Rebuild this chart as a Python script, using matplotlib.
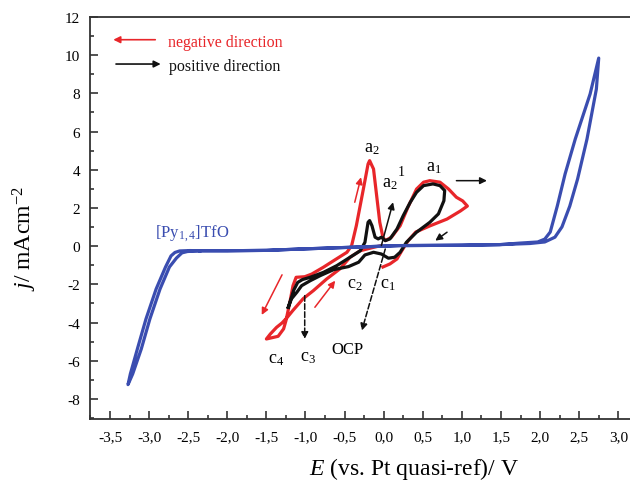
import matplotlib
matplotlib.use('Agg')
import matplotlib.pyplot as plt
from matplotlib.ticker import MultipleLocator, FuncFormatter

plt.rcParams['font.family'] = ['Liberation Serif', 'DejaVu Serif']
plt.rcParams['mathtext.fontset'] = 'custom'
plt.rcParams['mathtext.rm'] = 'Liberation Serif'
plt.rcParams['mathtext.it'] = 'Liberation Serif:italic'

# blue: neat ionic liquid, closed loop
blue_E = [-2.35, -2.48, -2.61, -2.67, -2.72, -2.79, -2.91, -3.04, -3.15, -3.24, -3.27,
          -3.21, -3.10, -2.99, -2.86, -2.74, -2.65, -2.58, -2.51, -2.35,
          -2.0, -1.5, -1.07, -0.43, 0.2, 1.0, 1.48, 1.74,
          1.97, 2.06, 2.13, 2.22, 2.32, 2.45, 2.64, 2.75,
          2.72, 2.60, 2.48, 2.38, 2.28, 2.19, 2.06, 1.87,
          1.48, 1.0, 0.2, -0.43, -1.07, -1.5, -2.0, -2.35]
blue_j = [-0.24, -0.23, -0.25, -0.33, -0.51, -1.09, -2.24, -3.81, -5.38, -6.69, -7.25,
          -6.69, -5.38, -3.81, -2.24, -1.09, -0.62, -0.35, -0.28, -0.24,
          -0.24, -0.22, -0.15, -0.06, 0.03, 0.05, 0.08, 0.16,
          0.22, 0.37, 0.74, 2.10, 3.78, 5.61, 7.97, 9.85,
          8.23, 5.61, 3.52, 2.10, 1.01, 0.47, 0.22, 0.14,
          0.08, 0.05, 0.03, -0.06, -0.15, -0.22, -0.24, -0.24]

# red: scan started in negative direction
red_E = [-0.01, 0.08, 0.17, 0.23, 0.31, 0.41, 0.59, 0.81, 0.98, 1.07, 1.01, 0.93, 0.83, 0.72,
         0.59, 0.51, 0.42, 0.31, 0.21, 0.10, 0.02, -0.01, -0.05, -0.09, -0.13, -0.18, -0.20,
         -0.26, -0.35, -0.41, -0.47, -0.64, -0.77, -0.92, -1.01, -1.12, -1.16, -1.20, -1.25,
         -1.28, -1.35, -1.50, -1.45, -1.37, -1.30, -1.24, -1.16, -1.03, -0.90, -0.73, -0.56,
         -0.43, -0.30, -0.13, -0.03]
red_j = [-1.09, -0.93, -0.67, -0.25, 0.27, 0.74, 1.06, 1.42, 1.84, 2.10, 2.37, 2.56, 2.99, 3.35,
         3.43, 3.35, 2.99, 2.04, 1.07, 0.47, 0.29, 0.47, 1.25, 2.64, 4.04, 4.48, 4.30,
         2.99, 1.07, 0.03, -0.32, -0.76, -1.10, -1.46, -1.60, -1.63, -2.07, -2.94, -3.90,
         -4.33, -4.72, -4.86, -4.60, -4.25, -4.02, -3.76, -3.36, -2.75, -2.33, -1.72, -1.19,
         -0.58, -0.24, -0.06, 0.03]

# black: scan started in positive direction
black_E = [-1.22, -1.15, -1.10, -1.04, -0.94, -0.77, -0.60, -0.43, -0.30, -0.24, -0.20, -0.18,
           -0.15, -0.11, -0.07, -0.03, 0.02, 0.08, 0.17, 0.25, 0.34, 0.42, 0.51, 0.63, 0.72,
           0.78, 0.77, 0.70, 0.59, 0.42, 0.29, 0.21, 0.14, 0.06, -0.03, -0.13, -0.24, -0.32,
           -0.45, -0.64, -0.81, -0.94, -1.05, -1.11, -1.18, -1.22]
black_j = [-3.20, -2.30, -1.90, -1.75, -1.63, -1.37, -1.02, -0.58, -0.24, 0.20, 1.25, 1.34,
           1.07, 0.47, 0.38, 0.47, 0.29, 0.38, 0.90, 1.60, 2.30, 2.82, 3.17, 3.26, 3.17,
           2.91, 2.38, 1.69, 1.25, 0.73, 0.20, -0.32, -0.58, -0.63, -0.41, -0.32, -0.46, -0.84,
           -1.07, -1.23, -1.54, -1.81, -2.07, -2.41, -2.76, -3.20]

BLUE = '#3a4db0'
RED = '#e8262a'
BLACK = '#111111'

fig = plt.figure(figsize=(6.3, 4.81), dpi=100)
ax = fig.add_axes([90/630, 61/481, 540/630, 402/481])

ax.plot(red_E, red_j, color=RED, lw=2.3, solid_joinstyle='round', zorder=2)
ax.plot(black_E, black_j, color=BLACK, lw=2.3, solid_joinstyle='round', zorder=3)
ax.plot(blue_E, blue_j, color=BLUE, lw=2.3, solid_joinstyle='round', zorder=4)

ax.set_xlim(-3.756, 3.15)
ax.set_ylim(-9.05, 12)
ax.xaxis.set_minor_locator(MultipleLocator(0.25))
ax.yaxis.set_major_locator(MultipleLocator(2))
ax.yaxis.set_minor_locator(MultipleLocator(1))
ax.set_xticks([v * 0.5 for v in range(-7, 7)])
ax.xaxis.set_major_formatter(FuncFormatter(lambda v, p: f'{v:.1f}'.replace('.', ',')))
ax.yaxis.set_major_formatter(FuncFormatter(lambda v, p: f'{v:.0f}'))
ax.tick_params(which='both', direction='in', top=False, right=False, color='#333333',
               width=1.2, labelsize=11)
ax.tick_params(which='major', length=6)
ax.tick_params(which='minor', length=3)
ax.tick_params(axis='y', pad=7)
ax.tick_params(axis='x', pad=8)
for s in ['left', 'bottom', 'top']:
    ax.spines[s].set_linewidth(1.3)
    ax.spines[s].set_color('#333333')
ax.spines['right'].set_visible(False)

ax.set_xlabel(r'$E$ (vs. Pt quasi-ref)/ V', fontsize=17)
ax.set_ylabel(r'$j$/ mAcm$^{-2}$', fontsize=17)
ax.xaxis.set_label_coords(0.60, -0.09)
ax.yaxis.set_label_coords(-0.095, 0.45)

# legend-like arrows
ax.annotate('', xy=(0.038, 0.9435), xytext=(0.126, 0.9435), xycoords='axes fraction',
            arrowprops=dict(arrowstyle='-|>', color=RED, lw=1.2, mutation_scale=10))
ax.text(0.145, 0.937, 'negative direction', color=RED, fontsize=11.5,
        transform=ax.transAxes, va='center', ha='left')
ax.annotate('', xy=(0.136, 0.883), xytext=(0.043, 0.883), xycoords='axes fraction',
            arrowprops=dict(arrowstyle='-|>', color=BLACK, lw=1.2, mutation_scale=10))
ax.text(0.147, 0.877, 'positive direction', color=BLACK, fontsize=11.5,
        transform=ax.transAxes, va='center', ha='left')

# arrows on the curves
def arrow(tail, head, color, ls='-'):
    ax.annotate('', xy=head, xytext=tail,
                arrowprops=dict(arrowstyle='-|>', color=color, lw=1.1, ls=ls,
                                mutation_scale=10, shrinkA=0, shrinkB=0), zorder=5)

arrow((0.93, 3.43), (1.32, 3.43), BLACK)
arrow((0.81, 0.73), (0.66, 0.29), BLACK)
arrow((-0.03, 0.03), (0.12, 2.30), BLACK)
arrow((-0.37, 2.30), (-0.29, 3.61), RED)
arrow((-1.30, -1.50), (-1.56, -3.60), RED)
arrow((-0.88, -3.20), (-0.62, -1.81), RED)
arrow((-1.01, -2.59), (-1.01, -4.86), BLACK, ls='--')
arrow((0.02, -0.15), (-0.28, -4.42), BLACK, ls='--')

# peak labels
fs = 13
ax.text(-0.15, 5.19, r'a$_2$', fontsize=fs, ha='center', va='center')
ax.text(0.08, 3.36, r'a$_2$', fontsize=fs, ha='center', va='center')
ax.text(0.22, 3.93, '1', fontsize=10, ha='center', va='center')
ax.text(0.64, 4.15, r'a$_1$', fontsize=fs, ha='center', va='center')
ax.text(-0.37, -1.98, r'c$_2$', fontsize=fs, ha='center', va='center')
ax.text(0.05, -1.93, r'c$_1$', fontsize=fs, ha='center', va='center')
ax.text(-1.38, -5.9, r'c$_4$', fontsize=fs, ha='center', va='center')
ax.text(-0.97, -5.8, r'c$_3$', fontsize=fs, ha='center', va='center')
ax.text(-0.47, -5.38, 'OCP', fontsize=12, ha='center', va='center')
ax.text(-2.45, 0.73, r'[Py$_{1,4}$]TfO', fontsize=12, color=BLUE, ha='center', va='center')

fig.savefig('out.png', dpi=100)
